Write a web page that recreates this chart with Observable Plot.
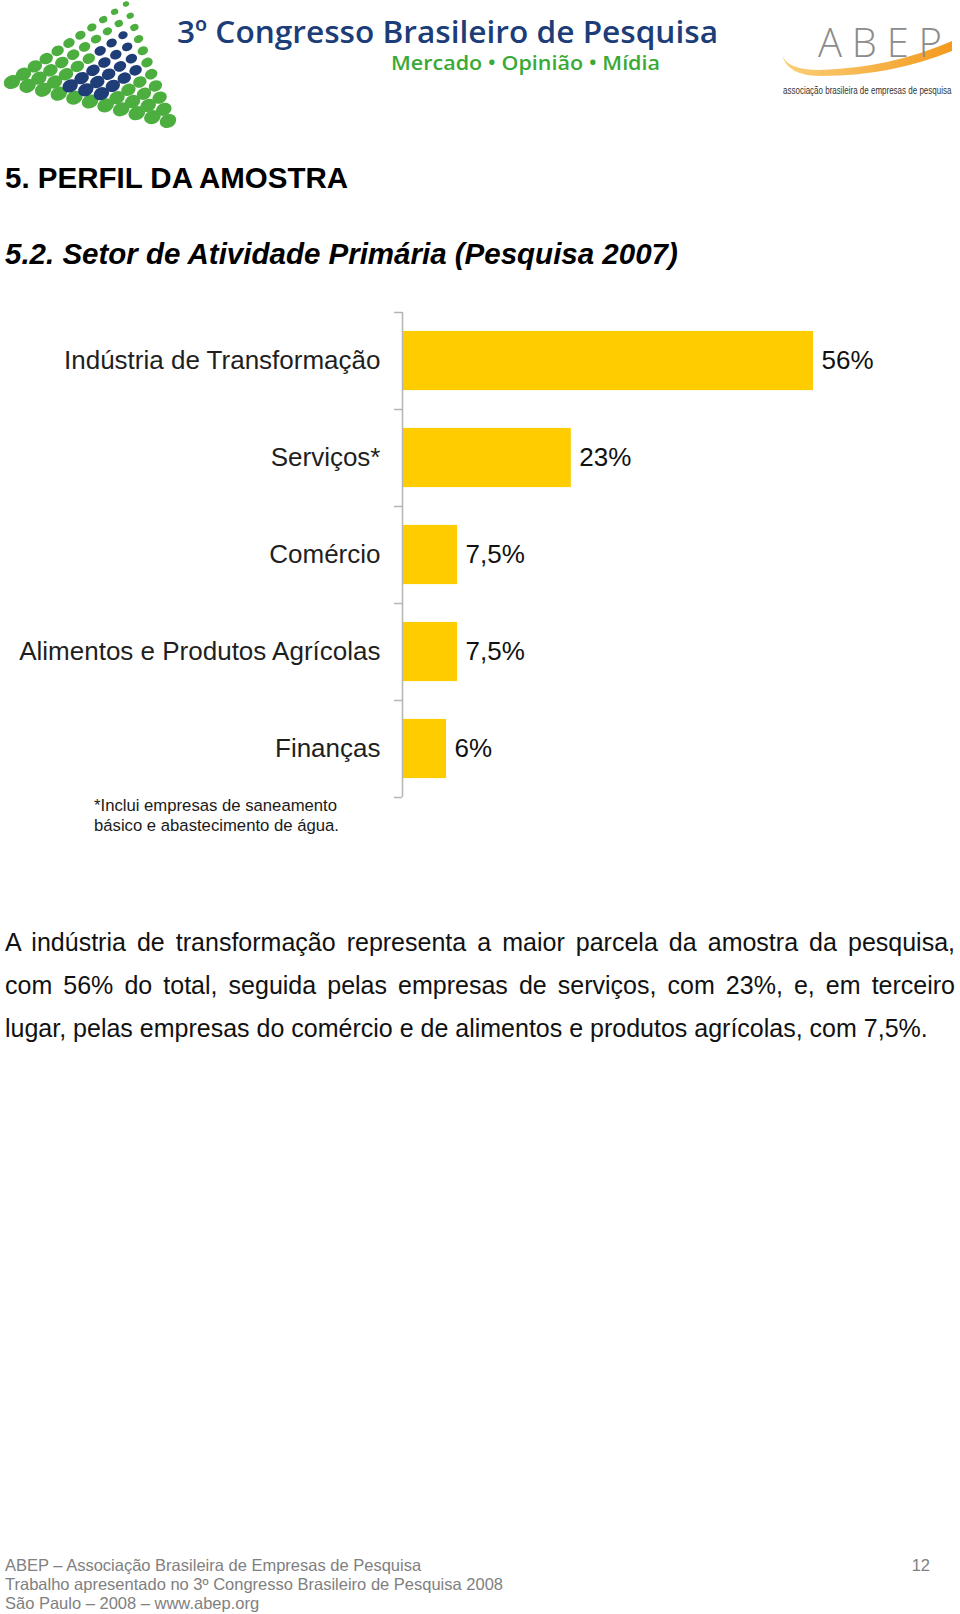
<!DOCTYPE html>
<html>
<head>
<meta charset="utf-8">
<script src="https://cdn.jsdelivr.net/npm/d3@7"></script>
<script src="https://cdn.jsdelivr.net/npm/@observablehq/plot@0.6"></script>
<style>
  html, body { margin: 0; padding: 0; background: #fff; }
  body { width: 960px; height: 1614px; position: relative; overflow: hidden; font-family: "Liberation Sans", Arial, sans-serif; }
  #page { position: absolute; left: 0; top: 0; }
  #chart { position: absolute; left: 0; top: 290px; }
</style>
</head>
<body>
<svg id="page" width="960" height="1614" xmlns="http://www.w3.org/2000/svg"></svg>
<div id="chart"></div>
<script>
// ---- chart data ----
const categories = ["Indústria de Transformação", "Serviços*", "Comércio", "Alimentos e Produtos Agrícolas", "Finanças"];
const values = [56, 23, 7.5, 7.5, 6];
const valueLabels = ["56%", "23%", "7,5%", "7,5%", "6%"];
const bandEdges = [0, 1, 2, 3, 4, 5];

// ---- page texts ----
const title = "5. PERFIL DA AMOSTRA";
const subtitle = "5.2. Setor de Atividade Primária (Pesquisa 2007)";
const footnoteLines = ["*Inclui empresas de saneamento", "básico e abastecimento de água."];
const paragraphLines = [
  "A indústria de transformação representa a maior parcela da amostra da pesquisa,",
  "com 56% do total, seguida pelas empresas de serviços, com 23%, e, em terceiro",
  "lugar, pelas empresas do comércio e de alimentos e produtos agrícolas, com 7,5%."
];
const footerLines = [
  "ABEP – Associação Brasileira de Empresas de Pesquisa",
  "Trabalho apresentado no 3º Congresso Brasileiro de Pesquisa 2008",
  "São Paulo – 2008 – www.abep.org"
];
const pageNumber = "12";

const rows = categories.map((c, i) => ({category: c, value: values[i], label: valueLabels[i], i}));

const chart = Plot.plot({
  width: 960,
  height: 520,
  marginLeft: 402,
  marginRight: 147,
  marginTop: 22,
  marginBottom: 13,
  x: {domain: [0, 56], axis: null},
  y: {domain: [0, 5], reverse: true, axis: null},
  style: {fontFamily: "'Liberation Sans', Arial, sans-serif", background: "transparent", overflow: "visible", color: "#000"},
  marks: [
    Plot.rect(rows, {x1: 0, x2: "value", y1: d => d.i + 0.195, y2: d => d.i + 0.805, fill: "#FFCC00"}),
    Plot.ruleX([0], {stroke: "#b5b5b5", strokeWidth: 1.5}),
    Plot.axisY({ticks: bandEdges, tickSize: 8, tickFormat: () => "", stroke: "#b5b5b5", strokeWidth: 1.5}),
    Plot.text(rows, {x: 0, y: d => d.i + 0.5, text: "category", textAnchor: "end", dx: -22, fontSize: 26, fill: "#1f1f1f"}),
    Plot.text(rows, {x: "value", y: d => d.i + 0.5, text: "label", textAnchor: "start", dx: 8, fontSize: 26, fill: "#111"})
  ]
});
document.getElementById("chart").appendChild(chart);

// ---- page decoration & text ----
const NS = "http://www.w3.org/2000/svg";
const page = document.getElementById("page");
function el(name, attrs, parent = page) {
  const e = document.createElementNS(NS, name);
  for (const k in attrs) e.setAttribute(k, attrs[k]);
  parent.appendChild(e);
  return e;
}
function txt(str, attrs, parent = page) { const t = el("text", attrs, parent); t.textContent = str; return t; }

// Congress logo: dotted triangle (decorative)
const L = [12, 82], T = [126, 4], B = [168, 121];
const n = 11;
for (let a = 0; a < n; a++) {
  for (let b = 0; a + b < n; b++) {
    const px = L[0] + a * (T[0] - L[0]) / (n - 1) + b * (B[0] - L[0]) / (n - 1);
    const py = L[1] + a * (T[1] - L[1]) / (n - 1) + b * (B[1] - L[1]) / (n - 1);
    const r = 6.8 - 0.42 * a;
    const blue = (b >= 3 && b <= 5 && a >= 1 && a <= 7 && a + b <= 9) || (b === 2 && a >= 5 && a <= 7);
    el("ellipse", {cx: px, cy: py, rx: r * 1.25, ry: r, transform: `rotate(-22 ${px} ${py})`, fill: blue ? "#1f3e78" : "#4cae3f"});
  }
}
txt("3º Congresso Brasileiro de Pesquisa", {x: 177, y: 43, "font-family": "'Open Sans', 'Liberation Sans', sans-serif", "font-weight": 600, "font-size": 31, fill: "#1c3d78", textLength: 541, lengthAdjust: "spacingAndGlyphs"});
txt("Mercado • Opinião • Mídia", {x: 391, y: 70, "font-family": "'Open Sans', 'Liberation Sans', sans-serif", "font-weight": 600, "font-size": 20, fill: "#3aa935", textLength: 269, lengthAdjust: "spacingAndGlyphs"});

// ABEP logo
const defs = el("defs", {});
const grad = el("linearGradient", {id: "sw", x1: "0", x2: "1", y1: "0", y2: "0"}, defs);
el("stop", {offset: "0", "stop-color": "#fbd07a"}, grad);
el("stop", {offset: "1", "stop-color": "#f39a1e"}, grad);
el("path", {d: "M782,54 Q786,70 820,70 Q890,68 952,41 L952,51 Q890,76 822,76 Q786,76 782,54 Z", fill: "url(#sw)"});
txt("ABEP", {x: 818, y: 57, "font-family": "'Open Sans', 'Liberation Sans', sans-serif", "font-weight": 300, "font-size": 40, fill: "#8c8c8c", textLength: 124, lengthAdjust: "spacing"});
const small = el("g", {transform: "translate(783,94) scale(0.8,1)"});
txt("associação brasileira de empresas de pesquisa", {x: 0, y: 0, "font-family": "'Liberation Sans', sans-serif", "font-size": 10, fill: "#333"}, small);

// headings
txt(title, {x: 5, y: 188, "font-size": 29.5, "font-weight": "bold", fill: "#000"});
txt(subtitle, {x: 5, y: 264, "font-size": 29.5, "font-weight": "bold", "font-style": "italic", fill: "#000"});

// footnote
footnoteLines.forEach((s, i) => txt(s, {x: 94, y: 811 + i * 20, "font-size": 16.7, fill: "#1a1a1a"}));

// paragraph (first two lines justified)
paragraphLines.forEach((s, i) => {
  const t = txt(s, {x: 5, y: 951 + i * 43, "font-size": 25, fill: "#111"});
  if (i < paragraphLines.length - 1) {
    const w = t.getComputedTextLength();
    const spaces = (s.match(/ /g) || []).length;
    const extra = (950 - w) / spaces;
    t.setAttribute("word-spacing", extra);
    t.style.wordSpacing = extra + "px";
  }
});

// footer
footerLines.forEach((s, i) => txt(s, {x: 5, y: 1571 + i * 19, "font-size": 16.5, fill: "#808080"}));
txt(pageNumber, {x: 930, y: 1571, "font-size": 16.5, fill: "#808080", "text-anchor": "end"});
</script>
</body>
</html>
